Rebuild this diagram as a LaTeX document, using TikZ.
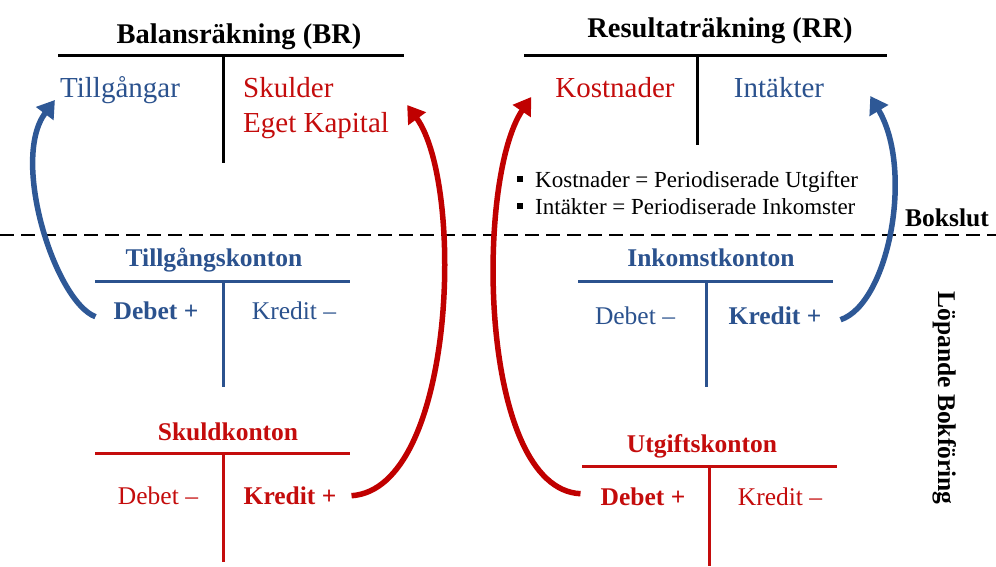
\documentclass[tikz,border=0pt]{standalone}
\usepackage{fontspec}
\setmainfont{Liberation Serif}
\usetikzlibrary{
  arrows.meta,
  positioning
}
\definecolor{assetcolor}{RGB}{43, 82, 142}
\definecolor{debtcolor}{RGB}{196, 12, 12}
\definecolor{bluearrowcolor}{RGB}{46, 88, 150}
\definecolor{redarrowcolor}{RGB}{192, 0, 0}
\newcommand{\bulletsq}{\rule[5pt]{6pt}{6pt}\hspace{12pt}}
\tikzset{
titlelabel/.style={
  font=\fontsize{28.5}{32}\selectfont\bfseries,
  inner sep=0pt,
  anchor=base
},
mainlabel/.style={
  font=\fontsize{29}{34}\selectfont,
  inner sep=0pt,
  anchor=base
},
kontolabel/.style={
  font=\fontsize{25.5}{30}\selectfont\bfseries,
  inner sep=0pt,
  anchor=base
},
sidelabel/.style={
  font=\fontsize{25.5}{30}\selectfont,
  inner sep=0pt,
  anchor=base
},
bulletlabel/.style={
  font=\fontsize{23}{27}\selectfont,
  inner sep=0pt,
  anchor=base west
},
tline/.style={
  line width=3pt
},
divider/.style={
  dash pattern=on 14pt off 7pt,
  line width=2.8pt
},
curvearrow/.style={
  -{Triangle[length=17pt,width=21pt]},
  line width=5.5pt
}
}

\begin{document}
\begin{tikzpicture}[x=1pt,y=-1pt]
  \useasboundingbox (0,0) rectangle (996,566);

  % Balansräkning
  \node[titlelabel] (br) at (239,43) {Balansräkning (BR)};
  \draw[tline] (58,55) -- (404,55) (223,55) -- (223,163);
  \node[mainlabel, text=assetcolor] (tga) at (120,97) {Tillgångar};
  \node[mainlabel, text=debtcolor, anchor=base west] (sku) at (243,97) {Skulder};
  \node[mainlabel, text=debtcolor, anchor=base west] (egk) at (243,132) {Eget Kapital};

  % Resultaträkning
  \node[titlelabel] (rr) at (720,37) {Resultaträkning (RR)};
  \draw[tline] (524,55) -- (887,55) (697,55) -- (697,145);
  \node[mainlabel, text=debtcolor] (kos) at (615,97) {Kostnader};
  \node[mainlabel, text=assetcolor] (int) at (779,97) {Intäkter};
  \node[bulletlabel] (def1) at (517,187) {\bulletsq Kostnader = Periodiserade Utgifter};
  \node[bulletlabel] (def2) at (517,214) {\bulletsq Intäkter = Periodiserade Inkomster};

  % Bokslut / löpande bokföring
  \draw[divider] (0,235) -- (996,235);
  \node[kontolabel, anchor=base east] (bok) at (989,226) {Bokslut};
  \node[kontolabel, rotate=-90] (lop) at (938,398) {Löpande Bokföring};

  % Tillgångskonton
  \node[kontolabel, text=assetcolor] (tgk) at (214,266) {Tillgångskonton};
  \draw[tline, draw=assetcolor] (95,281) -- (350,281) (223,281) -- (223,387);
  \node[kontolabel, text=assetcolor] (tdeb) at (156,319) {Debet +};
  \node[sidelabel, text=assetcolor] (tkre) at (294,319) {Kredit –};

  % Inkomstkonton
  \node[kontolabel, text=assetcolor] (ink) at (711,266) {Inkomstkonton};
  \draw[tline, draw=assetcolor] (578,281) -- (833,281) (706,281) -- (706,387);
  \node[sidelabel, text=assetcolor] (ideb) at (635,324) {Debet –};
  \node[kontolabel, text=assetcolor] (ikre) at (775,324) {Kredit +};

  % Skuldkonton
  \node[kontolabel, text=debtcolor] (skk) at (228,440) {Skuldkonton};
  \draw[tline, draw=debtcolor] (95,453) -- (350,453) (223,453) -- (223,562);
  \node[sidelabel, text=debtcolor] (sdeb) at (158,504) {Debet –};
  \node[kontolabel, text=debtcolor] (skre) at (290,504) {Kredit +};

  % Utgiftskonton
  \node[kontolabel, text=debtcolor] (utk) at (702,452) {Utgiftskonton};
  \draw[tline, draw=debtcolor] (582,466) -- (837,466) (709,466) -- (709,566);
  \node[kontolabel, text=debtcolor] (udeb) at (643,505) {Debet +};
  \node[sidelabel, text=debtcolor] (ukre) at (780,505) {Kredit –};

  % pilar vid bokslut
  \draw[curvearrow, draw=bluearrowcolor]
    ([xshift=-18pt]tdeb.mid west) .. controls +(-40,-15) and +(-45,60) .. ([shift={(-5pt,-3pt)}]tga.base west);
  \draw[curvearrow, draw=redarrowcolor]
    ([shift={(15pt,6pt)}]skre.mid east) .. controls +(104,-7) and +(58,80) .. ([shift={(18pt,27pt)}]egk.base east);
  \draw[curvearrow, draw=redarrowcolor]
    ([shift={(-20pt,9pt)}]udeb.mid west) .. controls +(-102,-5) and +(-56,83) .. ([xshift=-24pt]kos.base west);
  \draw[curvearrow, draw=bluearrowcolor]
    ([shift={(19pt,2pt)}]ikre.mid east) .. controls +(48,-16) and +(44,74) .. ([shift={(46pt,1pt)}]int.base east);
\end{tikzpicture}
\end{document}
